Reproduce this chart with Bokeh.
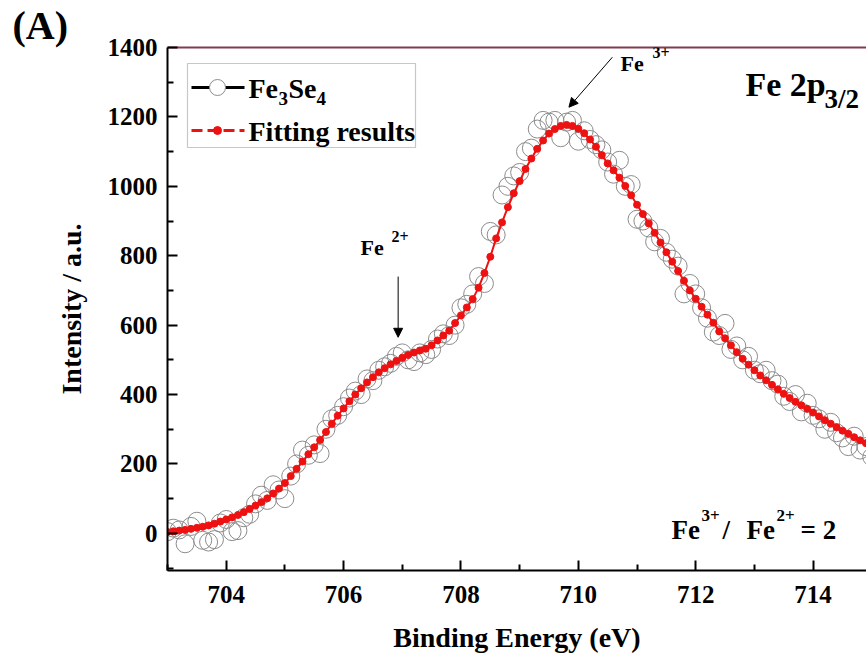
from bokeh.plotting import figure
from bokeh.models import (Range1d, LinearAxis, FixedTicker, Label, Arrow,
                          NormalHead, BoxAnnotation)
from bokeh.embed import file_html
from bokeh.resources import INLINE

# ---------------- data ----------------
energy = [round(703.0 + 0.1 * i, 1) for i in range(121)]

fit = [4, 6, 8, 10, 13, 16, 19, 23, 28, 34,
       40, 46, 53, 61, 70, 80, 90, 101, 115, 129,
       145, 165, 186, 207, 228, 248, 269, 292, 316, 339,
       360, 381, 400, 418, 435, 450, 464, 476, 487, 497,
       506, 514, 521, 527, 532, 542, 556, 570, 584, 606,
       628, 651, 675, 708, 750, 797, 850, 896, 940, 980,
       1015, 1050, 1080, 1108, 1132, 1152, 1165, 1174, 1177, 1174,
       1166, 1153, 1135, 1114, 1090, 1066, 1046, 1025, 1001, 974,
       947, 920, 893, 866, 838, 810, 783, 756, 728, 700,
       676, 653, 630, 607, 582, 562, 542, 522, 503, 486,
       470, 455, 441, 428, 415, 402, 390, 379, 369, 359,
       348, 337, 326, 316, 306, 296, 287, 277, 268, 260,
       252]

measured = [5, 15, 10, -30, 20, 35, -20, -25, -18, 30,
            40, 5, 8, 45, 55, 85, 110, 95, 140, 125,
            100, 165, 200, 240, 225, 255, 230, 300, 330, 340,
            365, 390, 410, 400, 445, 440, 470, 480, 490, 510,
            520, 500, 495, 520, 515, 530, 560, 575, 570, 600,
            650, 660, 690, 740, 720, 870, 860, 975, 1000, 1030,
            1040, 1100, 1110, 1165, 1190, 1185, 1190, 1140, 1185, 1190,
            1130, 1160, 1135, 1120, 1105, 1070, 1035, 1075, 1000, 1005,
            905, 900, 880, 840, 850, 810, 790, 770, 690, 720,
            690, 650, 620, 580, 570, 605, 530, 540, 500, 510,
            470, 460, 470, 440, 430, 395, 380, 400, 350, 375,
            340, 330, 300, 320, 290, 275, 250, 280, 240, 250,
            220]

x_major = [704, 706, 708, 710, 712, 714]
x_minor = [703, 705, 707, 709, 711, 713, 715]
y_major = [0, 200, 400, 600, 800, 1000, 1200, 1400]
y_minor = [-100, 100, 300, 500, 700, 900, 1100, 1300]

FONT = "Liberation Serif"
RED = "#ee1111"
MAROON = "#7e3d4f"

# ---------------- figure ----------------
p = figure(width=866, height=657, output_backend="svg", toolbar_location=None,
           x_range=Range1d(703.0, 714.91), y_range=Range1d(-107, 1400),
           min_border_left=167, min_border_right=0, min_border_top=47,
           min_border_bottom=87)
p.outline_line_color = None
p.grid.grid_line_color = None
p.background_fill_color = "white"
p.border_fill_color = "white"

# panel letter as the figure title, pulled to the left edge
p.title.text = "(A)"
p.title.align = "left"
p.title.offset = -155
p.title.standoff = 0
p.title.text_font = FONT
p.title.text_font_style = "bold"
p.title.text_font_size = "40px"
p.title.text_color = "black"

# helper ranges in window pixels for legend / text placement
p.extra_x_ranges = {"px": Range1d(167, 866)}
p.extra_y_ranges = {"px": Range1d(570, 47)}

for ax in (p.xaxis[0], p.yaxis[0]):
    ax.axis_line_width = 2
    ax.axis_line_color = "black"
    ax.major_tick_line_width = 2
    ax.minor_tick_line_width = 2
    ax.major_tick_in = 10
    ax.major_tick_out = 0
    ax.minor_tick_in = 6
    ax.minor_tick_out = 0
    ax.major_label_text_font = FONT
    ax.major_label_text_font_style = "bold"
    ax.major_label_text_font_size = "25px"
    ax.major_label_text_color = "black"
    ax.axis_label_text_font = FONT
    ax.axis_label_text_font_style = "bold"
    ax.axis_label_text_font_size = "28px"
    ax.axis_label_text_color = "black"

p.xaxis[0].ticker = FixedTicker(ticks=x_major, minor_ticks=x_minor)
p.yaxis[0].ticker = FixedTicker(ticks=y_major, minor_ticks=y_minor)
p.xaxis[0].axis_label = "Binding Energy (eV)"
p.yaxis[0].axis_label = "Intensity / a.u."
p.xaxis[0].major_label_standoff = 15
p.yaxis[0].major_label_standoff = 10
p.xaxis[0].axis_label_standoff = 16
p.yaxis[0].axis_label_standoff = 18

top_axis = LinearAxis(ticker=FixedTicker(ticks=[]), major_label_text_font_size="0px",
                      axis_line_color=MAROON, axis_line_width=2,
                      major_tick_line_color=None, minor_tick_line_color=None)
p.add_layout(top_axis, "above")

# ---------------- data marks ----------------
p.scatter(energy, measured, size=18, marker="circle", line_color="#8c8c8c",
          line_width=1, fill_alpha=0)
p.line(energy, fit, line_color=RED, line_width=2)
p.scatter(energy, fit, size=7, marker="circle", fill_color=RED, line_color=RED)

# ---------------- legend (drawn by hand) ----------------
p.add_layout(BoxAnnotation(left=187, right=415, top=63, bottom=147,
                           x_range_name="px", y_range_name="px",
                           fill_color="white", fill_alpha=1,
                           line_color="#444444", line_width=1.2, level="underlay"))
p.line([191, 244], [87, 87], x_range_name="px", y_range_name="px",
       line_color="black", line_width=3)
p.scatter([217], [87], x_range_name="px", y_range_name="px", size=16,
          marker="circle", fill_color="white", line_color="#8c8c8c")
p.line([191, 244], [130, 130], x_range_name="px", y_range_name="px",
       line_color=RED, line_width=3, line_dash="11 5")
p.scatter([217], [130], x_range_name="px", y_range_name="px", size=8,
          marker="circle", fill_color=RED, line_color=RED)


def txt(x, y, s, size, align="left"):
    p.add_layout(Label(x=x, y=y, x_range_name="px", y_range_name="px", text=s,
                       text_font=FONT, text_font_style="bold",
                       text_font_size=f"{size}px", text_color="black",
                       text_baseline="middle", text_align=align))


txt(248, 88, "Fe", 28)
txt(278, 98, "3", 19)
txt(288, 88, "Se", 28)
txt(316, 98, "4", 19)
txt(248, 131, "Fitting results", 28)

# Fe 2p3/2
txt(745, 84, "Fe 2p", 34)
txt(824, 98, "3/2", 27)

# Fe3+ / Fe2+ = 2
txt(671, 529, "Fe", 27)
txt(701, 515, "3+", 17)
txt(722, 529, "/", 27)
txt(746, 529, "Fe", 27)
txt(776, 515, "2+", 17)
txt(800, 529, "= 2", 27)

# Fe 2+ annotation
txt(360, 247, "Fe", 22)
txt(391, 236, "2+", 16)
# Fe 3+ annotation
txt(620, 63, "Fe", 22)
txt(652, 52, "3+", 16)

p.add_layout(Arrow(end=NormalHead(size=9, fill_color="black", line_color="black"),
                   x_start=706.93, y_start=740, x_end=706.93, y_end=565,
                   line_color="black", line_width=1))
p.add_layout(Arrow(end=NormalHead(size=9, fill_color="black", line_color="black"),
                   x_start=710.58, y_start=1372, x_end=709.84, y_end=1228,
                   line_color="black", line_width=1))

open("out.html", "w").write(file_html(p, INLINE))
